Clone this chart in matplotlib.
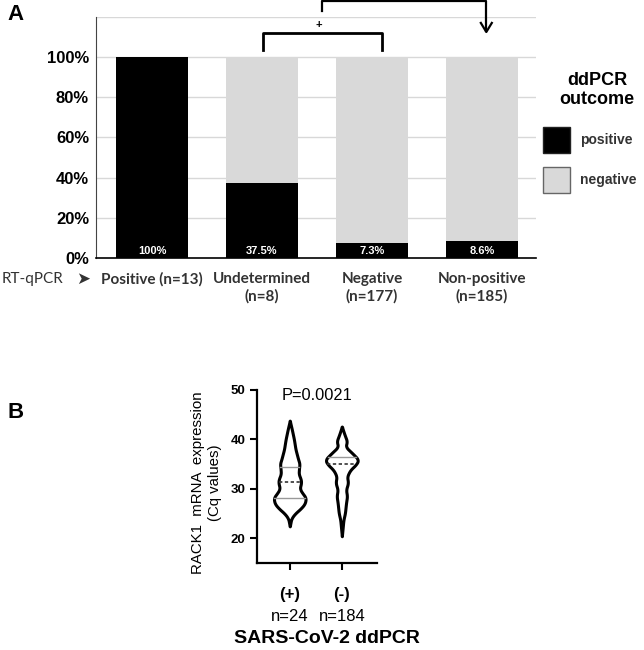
import numpy as np
import matplotlib
matplotlib.use("Agg")
import matplotlib.pyplot as plt
from matplotlib.patches import Patch

plt.rcParams['font.family'] = ['Liberation Sans', 'DejaVu Sans']

# Panel A data: share of ddPCR positive within each RT-qPCR group
groups = ["Positive (n=13)", "Undetermined\n(n=8)", "Negative\n(n=177)", "Non-positive\n(n=185)"]
pos_pct = [100.0, 37.5, 7.3, 8.6]
neg_pct = [100 - p for p in pos_pct]
bar_labels = ["100%", "37.5%", "7.3%", "8.6%"]

# Panel B data: violin outlines (Cq value, half width)
vio_pos_y = [22.4, 24.0, 25.0, 26.0, 27.0, 28.2, 29.0, 30.0, 31.3, 32.0, 33.0, 34.5, 35.0, 36.0, 38.0, 40.0, 42.0, 43.8]
vio_pos_w = [0.0, 0.03, 0.10, 0.21, 0.29, 0.31, 0.25, 0.19, 0.22, 0.21, 0.17, 0.18, 0.19, 0.16, 0.11, 0.08, 0.04, 0.0]
vio_neg_y = [20.4, 23.7, 25.1, 27.1, 28.5, 29.8, 31.2, 32.5, 33.8, 35.0, 35.9, 37.0, 38.5, 39.6, 41.0, 42.6]
vio_neg_w = [0.0, 0.03, 0.06, 0.08, 0.10, 0.08, 0.12, 0.10, 0.16, 0.28, 0.32, 0.22, 0.07, 0.10, 0.05, 0.0]
quart_pos = [28.1, 31.3, 34.5]
quart_neg = [35.05, 36.4]
b_groups = ["(+)", "(-)"]
b_counts = ["n=24", "n=184"]

fig = plt.figure(figsize=(6.44, 6.5), dpi=100)

# ---------------- Panel A ----------------
ax1 = fig.add_axes([0.149, 0.603, 0.683, 0.371])
x = np.arange(len(groups))
ax1.bar(x, pos_pct, width=0.66, color="black", zorder=3)
ax1.bar(x, neg_pct, bottom=pos_pct, width=0.66, color="#d9d9d9", zorder=3)
for xi, lab in zip(x, bar_labels):
    ax1.text(xi, 3.3, lab, color="white", ha="center", va="center",
             fontsize=8, fontweight="bold", zorder=4)

ax1.set_xlim(-0.51, 3.49)
ax1.set_ylim(0, 120)
ax1.set_yticks([0, 20, 40, 60, 80, 100])
ax1.set_yticklabels(["0%", "20%", "40%", "60%", "80%", "100%"], fontsize=12, fontweight="bold")
for g in [20, 40, 60, 80, 100, 120]:
    ax1.axhline(g, color="#d8d8d8", lw=1, zorder=1)
ax1.tick_params(axis="y", length=0, pad=5)
ax1.set_xticks(x)
ax1.set_xticklabels(groups, fontsize=11, fontweight="bold", color="#333333",
                    family=["Lato", "DejaVu Sans"], linespacing=1.3)
ax1.tick_params(axis="x", length=0, pad=10)
for s in ["top", "right"]:
    ax1.spines[s].set_visible(False)
ax1.spines["left"].set_color("#444444")
ax1.spines["bottom"].set_linewidth(1.2)

# significance brackets
ax1.plot([1.01, 1.01, 2.09, 2.09], [103.5, 112, 112, 103.5], color="black", lw=2, clip_on=False)
ax1.text(1.52, 116, "+", ha="center", va="center", fontsize=8, fontweight="bold")
ax1.plot([1.545, 1.545, 3.04, 3.04], [123, 128, 128, 113], color="black", lw=1.6, clip_on=False)
ax1.plot([2.99, 3.04, 3.09], [117, 112.5, 117], color="black", lw=1.6, clip_on=False)

fig.text(0.003, 0.571, "RT-qPCR", fontsize=11, color="#333333", va="center",
         family=["Lato", "DejaVu Sans"])
fig.text(0.118, 0.571, "\u27a4", fontsize=12, color="#333333", va="center", ha="left",
         family=["DejaVu Sans"])

# legend
fig.text(0.927, 0.861, "ddPCR\noutcome", ha="center", va="center", fontsize=13,
         fontweight="bold", linespacing=1.15)
handles = [Patch(facecolor="black", edgecolor="#222222", label="positive"),
           Patch(facecolor="#d9d9d9", edgecolor="#666666", label="negative")]
leg = fig.legend(handles=handles, loc="upper left", bbox_to_anchor=(0.843, 0.805),
                 frameon=False, fontsize=10, borderpad=0, borderaxespad=0,
                 handlelength=1.95, handleheight=2.5, labelspacing=1.0, handletextpad=0.72)
for t in leg.get_texts():
    t.set_fontweight("bold")
    t.set_color("#333333")

fig.text(0.012, 0.977, "A", fontsize=16, fontweight="bold", va="center")

# ---------------- Panel B ----------------
ax2 = fig.add_axes([0.399, 0.134, 0.186, 0.266])
vio_sets = [(0, vio_pos_y, vio_pos_w, quart_pos, 1), (1, vio_neg_y, vio_neg_w, quart_neg, 0)]
for c, vy, vw, qs, med_idx in vio_sets:
    yy = np.linspace(vy[0], vy[-1], 300)
    ww = np.interp(yy, vy, vw)
    k = np.ones(15) / 15
    ww = np.convolve(np.pad(ww, 7, mode="edge"), k, mode="valid")
    ww[0] = ww[-1] = 0
    ax2.fill_betweenx(yy, c - ww, c + ww, facecolor="white", edgecolor="black", lw=2.2, zorder=2)
    for i, q in enumerate(qs):
        hw = np.interp(q, yy, ww)
        if i == med_idx:
            ax2.plot([c - hw, c + hw], [q, q], color="#333333", lw=1.2, ls=(0, (2, 1.5)), zorder=3)
        else:
            ax2.plot([c - hw, c + hw], [q, q], color="#999999", lw=1, zorder=3)

ax2.set_xlim(-0.63, 1.67)
ax2.set_ylim(15, 50)
ax2.set_yticks([20, 30, 40, 50])
ax2.set_yticklabels(["20", "30", "40", "50"], fontsize=9.5, fontweight="bold")
ax2.set_xticks([0, 1])
ax2.set_xticklabels([])
ax2.tick_params(axis="both", length=5, width=1.5)
for s in ["top", "right"]:
    ax2.spines[s].set_visible(False)
for s in ["left", "bottom"]:
    ax2.spines[s].set_linewidth(1.6)

tr = ax2.get_xaxis_transform()
for c, g, n in zip([0, 1], b_groups, b_counts):
    ax2.text(c, -0.185, g, transform=tr, ha="center", va="center", fontsize=12, fontweight="bold")
    ax2.text(c, -0.31, n, transform=tr, ha="center", va="center", fontsize=12)
fig.text(0.508, 0.017, "SARS-CoV-2 ddPCR", ha="center", va="center", fontsize=14, fontweight="bold")
ax2.text(0.5, 0.97, "P=0.0021", transform=ax2.transAxes, ha="center", va="center", fontsize=11.8)
fig.text(0.321, 0.258, "RACK1  mRNA  expression\n(Cq values)", rotation=90, ha="center",
         va="center", fontsize=10.8, linespacing=1.25)

fig.text(0.012, 0.365, "B", fontsize=16, fontweight="bold", va="center")

fig.savefig("out.png", dpi=100)
